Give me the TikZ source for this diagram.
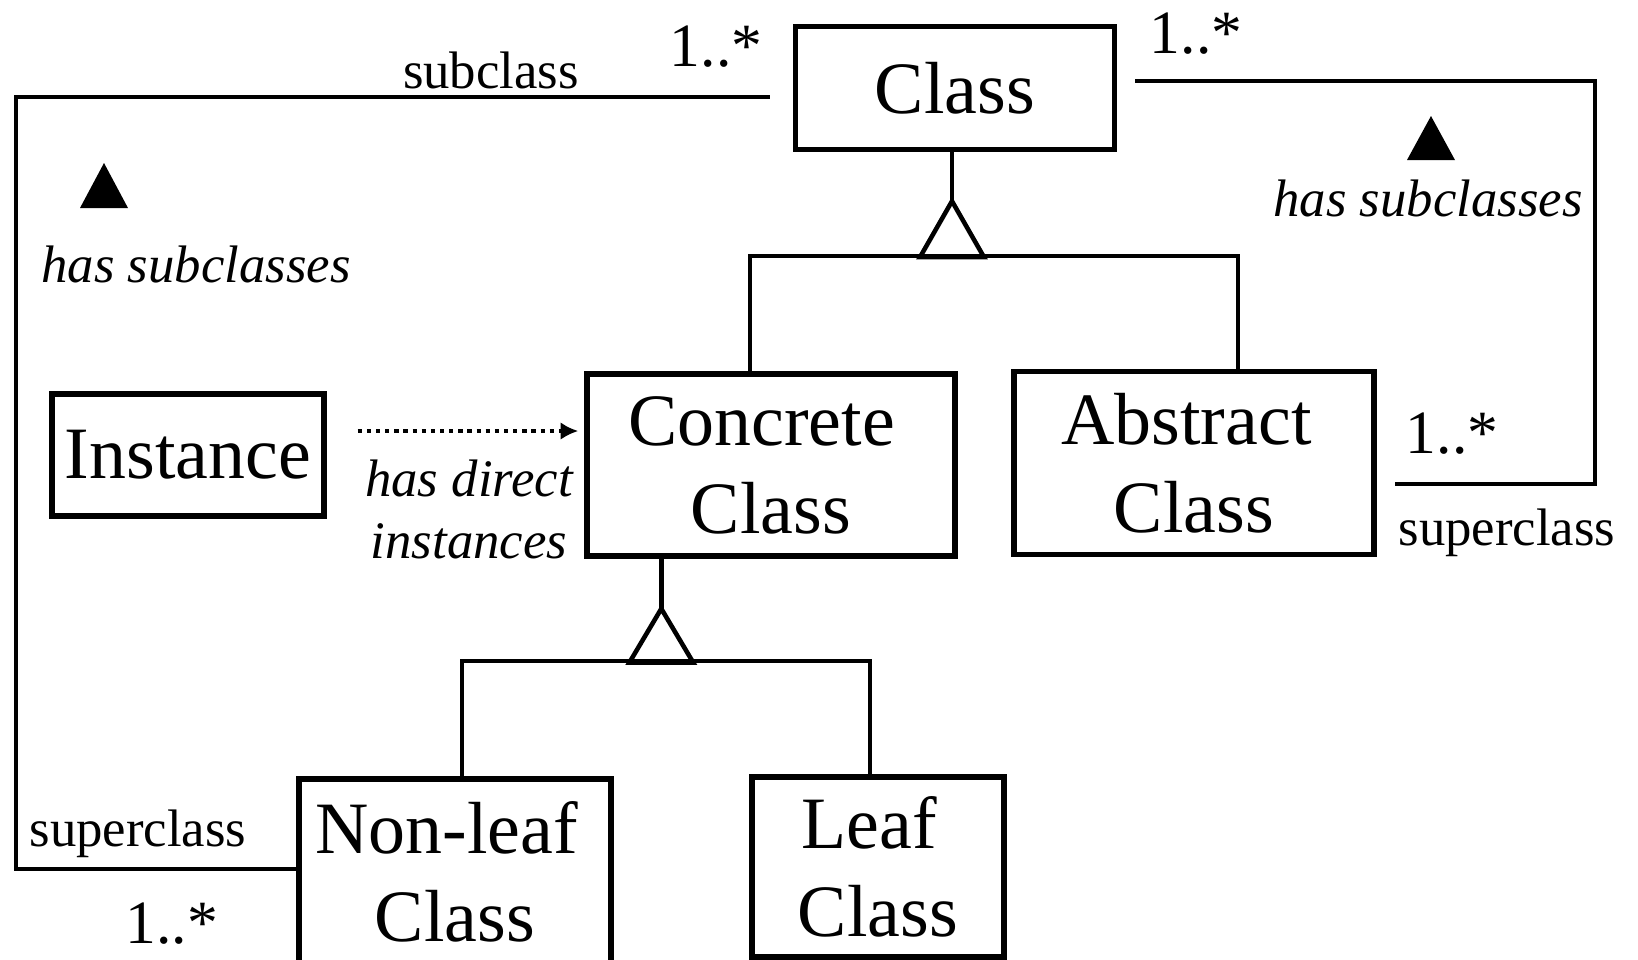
\documentclass[tikz,border=0pt]{standalone}
\usepackage{fontspec}
\setmainfont{Liberation Serif}
\usetikzlibrary{arrows.meta}
\begin{document}
\begin{tikzpicture}[x=0.01cm,y=-0.01cm,
  line width=1.3pt,
  box/.style={draw, line width=1.5pt, inner sep=0pt, align=center,
    font=\fontsize{21}{25}\selectfont},
  lbl/.style={inner sep=0pt, font=\fontsize{15}{18}\selectfont},
  mult/.style={inner sep=0pt, font=\fontsize{17.5}{20}\selectfont},
  ilbl/.style={inner sep=0pt, align=center, font=\fontsize{15}{18}\selectfont\itshape},
  navtri/.style={fill=black},
]
\useasboundingbox (0,0) rectangle (1638,959);
\clip (0,0) rectangle (1638,959);

% classes
\node[box, minimum width=3.19cm, minimum height=1.23cm] (cls) at (955,88) {Class};
\node[box, minimum width=3.68cm, minimum height=1.82cm] (conc) at (771,465) {Concrete\hspace*{0.19cm}\\Class};
\node[box, minimum width=3.60cm, minimum height=1.83cm] (abs) at (1194,463) {Abstract\hspace*{0.15cm}\\Class};
\node[box, minimum width=2.72cm, minimum height=1.22cm] (inst) at (188,455) {Instance};
\node[box, minimum width=3.12cm, minimum height=1.86cm] (nonleaf) at (455,872) {Non-leaf\hspace*{0.17cm}\\Class};
\node[box, minimum width=2.52cm, minimum height=1.80cm] (leaf) at (878,867) {Leaf\hspace*{0.17cm}\\Class};

% generalization: Class -> Concrete / Abstract
\draw ([xshift=-0.03cm]cls.south) -- ++(0,49) coordinate (g1);
\draw[line join=miter] (g1) -- ++(-32,56) -- ++(64,0) -- cycle;
\coordinate (barL) at (750,256);
\coordinate (barR) at (1238,256);
\draw (conc.north -| barL) -- (barL) -- (barR) -- (abs.north -| barR);

% generalization: Concrete -> Non-leaf / Leaf
\draw ([xshift=0.77cm]conc.south west) -- ++(0,50) coordinate (g2);
\draw[line join=miter] (g2) -- ++(-32,54) -- ++(64,0) -- cycle;
\coordinate (bar2L) at (462,661);
\coordinate (bar2R) at (870,661);
\draw (nonleaf.north -| bar2L) -- (bar2L) -- (bar2R) -- (leaf.north -| bar2R);

% association: Class (subclass) -- Non-leaf Class (superclass)
\coordinate (ltop) at (16,97);
\coordinate (lbot) at (16,869);
\draw ([shift={(-23,9)}]cls.west) -- (ltop) -- (lbot) -- (nonleaf.west |- lbot);
\node[lbl] (subL) at (491,70) {subclass};
\node[mult] (multL1) at (716,47) {1..*};
\fill[navtri] (104,163) -- (128,208) -- (80,208) -- cycle;
\node[ilbl] (hasL) at (196,264) {has subclasses};
\node[lbl] (supL) at (138,834) {superclass};
\node[mult] (multL2) at (172,924) {1..*};

% association: Class -- Abstract Class (superclass)
\coordinate (rtop) at (1595,81);
\coordinate (rbot) at (1595,484);
\draw ([shift={(18,-7)}]cls.east) -- (rtop) -- (rbot) -- ([xshift=0.18cm]abs.east |- rbot);
\node[mult] (multR1) at (1196,34) {1..*};
\fill[navtri] (1431,116) -- (1455,160) -- (1407,160) -- cycle;
\node[ilbl] (hasR) at (1428,198) {has subclasses};
\node[mult] (multR2) at (1452,434) {1..*};
\node[lbl] (supR) at (1507,533) {superclass};

% instance dependency
\draw[line width=1.2pt, dash pattern=on 1.2pt off 1.4pt, -{Latex[length=5pt,width=5pt]}]
  ([shift={(31,-24)}]inst.east) -- ([shift={(-6,-34)}]conc.west);
\node[ilbl] (hd1) at (469,478) {has direct};
\node[ilbl] (hd2) at (469,541) {instances};
\end{tikzpicture}
\end{document}
